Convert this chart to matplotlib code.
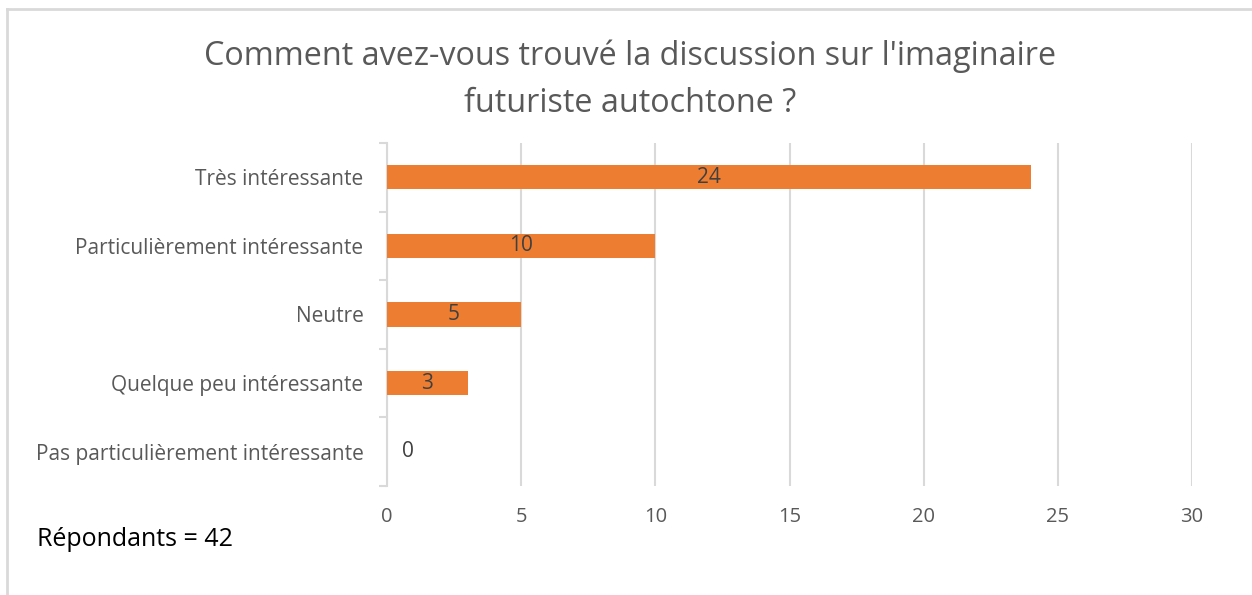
import matplotlib
matplotlib.use("Agg")
import matplotlib.pyplot as plt
from matplotlib.lines import Line2D

categories = ["Très intéressante", "Particulièrement intéressante", "Neutre",
              "Quelque peu intéressante", "Pas particulièrement intéressante"]
values = [24, 10, 5, 3, 0]
xticks = [0, 5, 10, 15, 20, 25, 30]
title = "Comment avez-vous trouvé la discussion sur l'imaginaire\nfuturiste autochtone ?"
note = "Répondants = 42"

FONT = ["Open Sans", "DejaVu Sans"]
plt.rcParams['font.family'] = FONT
GRAY_TXT = "#595959"
GRID = "#d9d9d9"
BAR = "#ED7D31"

fig = plt.figure(figsize=(12.52, 5.95), dpi=100)
ax = fig.add_axes([387/1252, 1-486/595, (1192-387)/1252, (486-143)/595])

n = len(categories)
ypos = list(range(n))
ax.barh(ypos, values, height=0.35, color=BAR, zorder=3)
ax.set_ylim(n - 0.5, -0.5)
ax.set_xlim(0, 30)
ax.set_xticks(xticks)
ax.set_xticklabels([str(t) for t in xticks], color=GRAY_TXT, fontsize=14.5)
ax.tick_params(axis='x', length=0, pad=15)
ax.xaxis.grid(True, color=GRID, linewidth=1.5, zorder=0)
ax.set_axisbelow(True)

ax.set_yticks(ypos)
ax.set_yticklabels(categories, color=GRAY_TXT, fontsize=15)
ax.tick_params(axis='y', which='major', length=0, pad=17)
ax.set_yticks([i - 0.5 for i in range(n + 1)], minor=True)
ax.tick_params(axis='y', which='minor', length=6, color=GRID, width=1.5)

for s in ['top', 'right', 'bottom']:
    ax.spines[s].set_visible(False)
ax.spines['left'].set_color(GRID)
ax.spines['left'].set_linewidth(1.5)

for y, v in zip(ypos, values):
    if v > 0:
        ax.text(v / 2, y, str(v), ha='center', va='center', color="#404040", fontsize=15, zorder=4)
    else:
        ax.annotate(str(v), (0, y), xytext=(21, 0), textcoords='offset pixels',
                    ha='center', va='center', color="#404040", fontsize=15)

fig.text(630/1252, 1-80/595, title, ha='center', va='center', color=GRAY_TXT,
         fontsize=23.3, linespacing=1.55)
fig.text(37/1252, 1-540/595, note, ha='left', va='center', color='black', fontsize=18)

fig.add_artist(Line2D([7/1252, 7/1252], [0, 1-9/595], transform=fig.transFigure, color=GRID, linewidth=2))
fig.add_artist(Line2D([7/1252, 1], [1-9/595, 1-9/595], transform=fig.transFigure, color=GRID, linewidth=2))

fig.savefig("out.png", dpi=100, facecolor='white')
